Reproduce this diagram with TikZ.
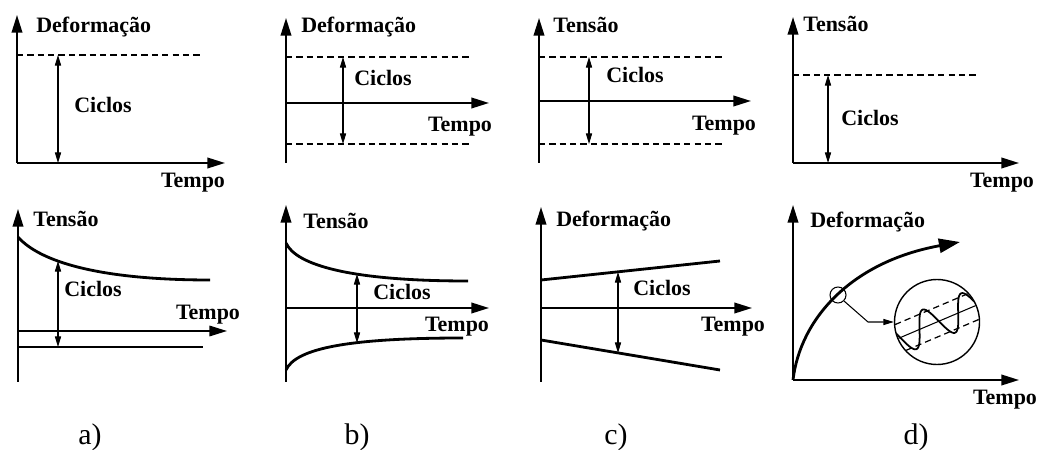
\documentclass[tikz,border=0pt]{standalone}
\usepackage{fontspec}
\setmainfont{Liberation Serif}
\usepackage{tikz}
\usetikzlibrary{arrows.meta}

\begin{document}
\begin{tikzpicture}[x=0.2mm, y=-0.2mm,
	axis/.style={line width=1.1pt, -{Triangle[length=10pt, width=6pt]}},
	cyc/.style={line width=0.6pt, {Triangle[length=6pt, width=3.5pt]}-{Triangle[length=6pt, width=3.5pt]}},
	lim/.style={line width=0.8pt, dash pattern=on 3.6pt off 2.3pt},
	load/.style={line width=1.6pt},
	lbl/.style={font=\bfseries\fontsize{12.5}{14}\selectfont, inner sep=0pt},
	tag/.style={font=\fontsize{17}{19}\selectfont, inner sep=0pt}]
	\useasboundingbox (0, 0) rectangle (1038, 450);
	% Top row, a):
	\coordinate (O1) at (17, 163); \coordinate (Y1) at (17, 15); \coordinate (X1) at (225, 163);
	\coordinate (D1) at (17, 55); \coordinate (E1) at (202, 55);
	\draw[axis] (O1) -- (Y1);
	\draw[axis] (O1) -- (X1);
	\draw[lim] (D1) -- (E1);
	\draw[cyc] (D1 -| 58, 0) -- (O1 -| 58, 0);
	\node[lbl, anchor=base west](V1) at (36, 33){Deformação};
	\node[lbl, anchor=base](C1) at (103, 113){Ciclos};
	\node[lbl, anchor=base](H1) at (193, 188){Tempo};
	% Top row, b):
	\coordinate (O2) at (286, 163); \coordinate (Y2) at (286, 18);
	\coordinate (A2) at (286, 103); \coordinate (X2) at (489, 103);
	\coordinate (D2) at (286, 57); \coordinate (E2) at (470, 57);
	\coordinate (F2) at (286, 144); \coordinate (G2) at (470, 144);
	\draw[axis] (O2) -- (Y2);
	\draw[axis] (A2) -- (X2);
	\draw[lim] (D2) -- (E2);
	\draw[lim] (F2) -- (G2);
	\draw[cyc] (D2 -| 343, 0) -- (F2 -| 343, 0);
	\node[lbl, anchor=base west](V2) at (301, 33){Deformação};
	\node[lbl, anchor=base](C2) at (383, 86){Ciclos};
	\node[lbl, anchor=base](H2) at (460, 132){Tempo};
	% Top row, c):
	\coordinate (O3) at (539, 163); \coordinate (Y3) at (539, 18);
	\coordinate (A3) at (539, 101); \coordinate (X3) at (751, 101);
	\coordinate (D3) at (539, 57); \coordinate (E3) at (723, 57);
	\coordinate (F3) at (539, 144); \coordinate (G3) at (723, 144);
	\draw[axis] (O3) -- (Y3);
	\draw[axis] (A3) -- (X3);
	\draw[lim] (D3) -- (E3);
	\draw[lim] (F3) -- (G3);
	\draw[cyc] (D3 -| 589, 0) -- (F3 -| 589, 0);
	\node[lbl, anchor=base west](V3) at (553, 33){Tensão};
	\node[lbl, anchor=base](C3) at (635, 83){Ciclos};
	\node[lbl, anchor=base](H3) at (724, 131){Tempo};
	% Top row, d):
	\coordinate (O4) at (793, 163); \coordinate (Y4) at (793, 17); \coordinate (X4) at (1019, 163);
	\coordinate (D4) at (793, 75); \coordinate (E4) at (978, 75);
	\draw[axis] (O4) -- (Y4);
	\draw[axis] (O4) -- (X4);
	\draw[lim] (D4) -- (E4);
	\draw[cyc] (D4 -| 828, 0) -- (O4 -| 828, 0);
	\node[lbl, anchor=base west](V4) at (803, 32){Tensão};
	\node[lbl, anchor=base](C4) at (870, 126){Ciclos};
	\node[lbl, anchor=base](H4) at (1002, 188){Tempo};
	% Bottom row, a):
	\coordinate (O5) at (18, 382); \coordinate (Y5) at (18, 209);
	\coordinate (A5) at (18, 331); \coordinate (X5) at (227, 331);
	\coordinate (D5) at (18, 237); \coordinate (E5) at (210, 280);
	\coordinate (F5) at (18, 347); \coordinate (G5) at (203, 347);
	\draw[axis] (O5) -- (Y5);
	\draw[axis, line width=0.9pt] (A5) -- (X5);
	\draw[load] (D5) .. controls (40, 262) and (100, 280) .. (E5);
	\draw[load] (F5) -- (G5);
	\draw[cyc] (58, 261) -- (F5 -| 58, 0);
	\node[lbl, anchor=base west](V5) at (33, 227){Tensão};
	\node[lbl, anchor=base](C5) at (93, 297){Ciclos};
	\node[lbl, anchor=base](H5) at (208, 320){Tempo};
	\node[tag](Ta) at (90, 437){a)};
	% Bottom row, b):
	\coordinate (O6) at (286, 382); \coordinate (Y6) at (286, 205);
	\coordinate (A6) at (286, 308); \coordinate (X6) at (489, 308);
	\coordinate (D6) at (286, 243); \coordinate (E6) at (468, 281);
	\coordinate (F6) at (286, 370); \coordinate (G6) at (463, 338);
	\draw[axis] (O6) -- (Y6);
	\draw[axis] (A6) -- (X6);
	\draw[load] (D6) .. controls (296, 265) and (350, 281) .. (E6);
	\draw[load] (F6) .. controls (296, 348) and (350, 338) .. (G6);
	\draw[cyc] (357, 274) -- (357, 343);
	\node[lbl, anchor=base west](V6) at (303, 229){Tensão};
	\node[lbl, anchor=base](C6) at (402, 300){Ciclos};
	\node[lbl, anchor=base](H6) at (457, 332){Tempo};
	\node[tag](Tb) at (357, 437){b)};
	% Bottom row, c):
	\coordinate (O7) at (541, 382); \coordinate (Y7) at (541, 207);
	\coordinate (A7) at (541, 308); \coordinate (X7) at (752, 308);
	\coordinate (D7) at (541, 280); \coordinate (E7) at (720, 261);
	\coordinate (F7) at (541, 340); \coordinate (G7) at (720, 370);
	\draw[axis] (O7) -- (Y7);
	\draw[axis] (A7) -- (X7);
	\draw[load] (D7) -- (E7);
	\draw[load] (F7) -- (G7);
	\draw[cyc] (618, 272) -- (618, 353);
	\node[lbl, anchor=base west](V7) at (556, 227){Deformação};
	\node[lbl, anchor=base](C7) at (662, 296){Ciclos};
	\node[lbl, anchor=base](H7) at (733, 332){Tempo};
	\node[tag](Tc) at (616, 437){c)};
	% Bottom row, d):
	\coordinate (O8) at (793, 380); \coordinate (Y8) at (793, 205);
	\coordinate (X8) at (1019, 380); \coordinate (E8) at (960, 242);
	\coordinate (P8) at (868, 322);
	\draw[axis] (O8) -- (Y8);
	\draw[axis] (O8) -- (X8);
	\draw[load, -{Triangle[length=12pt, width=8pt]}] (O8) .. controls (800, 320) and (850, 262) .. (E8);
	\node[circle, draw, line width=0.6pt, minimum size=3.2mm, inner sep=0pt](S8) at (838, 295){};
	\node[circle, draw, line width=0.8pt, minimum size=17mm, inner sep=0pt](L8) at (937, 322){};
	\draw[line width=0.6pt, -{Triangle[length=6pt, width=3.5pt]}] (S8.-45) -- (P8) -- (L8.west);
	\begin{scope}[shift={(L8.center)}, rotate=23]
		\clip (0, 0) circle (8.4mm);
		\draw[line width=0.6pt] (-50, 0) -- (50, 0);
		\draw[lim, line width=0.7pt] (-50, -14) -- (50, -14);
		\draw[lim, line width=0.7pt] (-50, 14) -- (50, 14);
		\draw[line width=1pt] plot[domain=-50:50, samples=80, smooth] (\x, {-17*cos(8.5714*(\x+8.5))});
	\end{scope}
	\node[lbl, anchor=base west](V8) at (810, 228){Deformação};
	\node[lbl, anchor=base](H8) at (1005, 404){Tempo};
	\node[tag](Td) at (916, 437){d)};
\end{tikzpicture}
\end{document}
